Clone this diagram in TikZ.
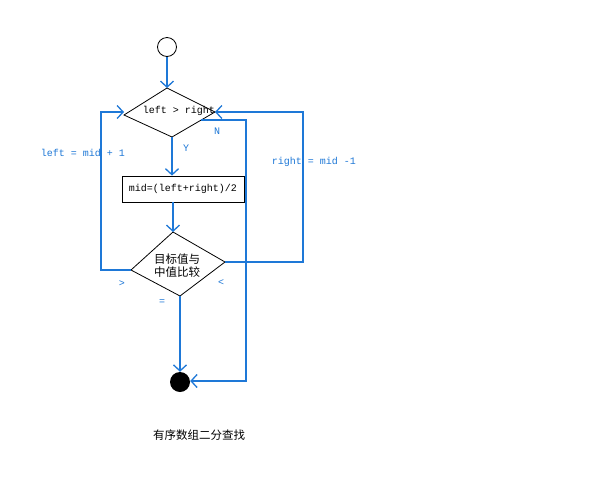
\documentclass[tikz,border=0pt]{standalone}
\usepackage{fontspec}
\setmonofont{Liberation Mono}
\newfontfamily\cjk{Noto Sans CJK SC}
\usetikzlibrary{arrows.meta}
\definecolor{fblue}{RGB}{30,120,215}
\begin{document}
\begin{tikzpicture}[x=1pt,y=-1pt,
  flow/.style={draw=fblue, line width=1.8pt},
  arr/.style={flow, -{Straight Barb[length=6pt,width=13pt,line width=1.3pt]}},
  lbl/.style={text=fblue, font=\ttfamily\fontsize{10}{12}\selectfont, inner sep=0pt},
  txt/.style={text=black, font=\ttfamily\fontsize{10}{12}\selectfont, inner sep=0pt},
  shapeline/.style={draw=black, line width=0.8pt},
]
\useasboundingbox[fill=white] (0,0) rectangle (595,483);
% start
\node[shapeline, circle, minimum size=19pt, inner sep=0pt] (start) at (167,47) {};
% diamond 1
\coordinate (d1t) at (167,88);
\coordinate (d1l) at (124,115);
\coordinate (d1b) at (172,137);
\coordinate (d1r) at (215,112);
\draw[shapeline] (d1t) -- (d1l) -- (d1b) -- (d1r) -- cycle;
\node[txt] (cond) at (179,111) {left > right};
% box
\node[shapeline, minimum width=122pt, minimum height=26pt, inner sep=0pt, txt] (calc) at (183,189) {mid=(left+right)/2};
% diamond 2
\coordinate (d2t) at (173,232);
\coordinate (d2l) at (131,270);
\coordinate (d2b) at (180,296);
\coordinate (d2r) at (225,262);
\draw[shapeline] (d2t) -- (d2l) -- (d2b) -- (d2r) -- cycle;
\node[align=center, font=\cjk\fontsize{11.5}{13}\selectfont, inner sep=0pt] (cmp) at (177,266) {目标值与\\中值比较};
% end
\node[circle, fill=black, minimum size=20pt, inner sep=0pt] (stop) at (180,382) {};
% connectors
\draw[arr] (start.south) -- (d1t);
\draw[arr] (d1b) -- (calc.north -| d1b);
\draw[arr] (calc.south -| d2t) -- (d2t);
\draw[arr] (d2b) -- (stop.north);
\coordinate (a1) at (124,112);
\coordinate (l1) at (101,112);
\coordinate (l2) at (101,270);
\draw[arr] (d2l) -- (l2) -- (l1) -- (a1);
\coordinate (r1) at (303,262);
\coordinate (r2) at (303,112);
\draw[arr] (d2r) -- (r1) -- (r2) -- (d1r);
\coordinate (n0) at (201,120);
\coordinate (n1) at (246,120);
\coordinate (n2) at (246,381);
\draw[arr] (n0) -- (n1) -- (n2) -- (stop.east |- n2);
% labels
\node[lbl] (lN) at (217,131) {N};
\node[lbl] (lY) at (186,148) {Y};
\node[lbl] (lleft) at (83,153) {left = mid + 1};
\node[lbl] (lright) at (314,162) {right = mid -1};
\node[lbl] (lgt) at (122,284) {>};
\node[lbl] (llt) at (221,283) {<};
\node[lbl] (leq) at (162,302) {=};
\node[font=\cjk\fontsize{11.5}{13}\selectfont, inner sep=0pt] (title) at (199,435) {有序数组二分查找};
\end{tikzpicture}
\end{document}
